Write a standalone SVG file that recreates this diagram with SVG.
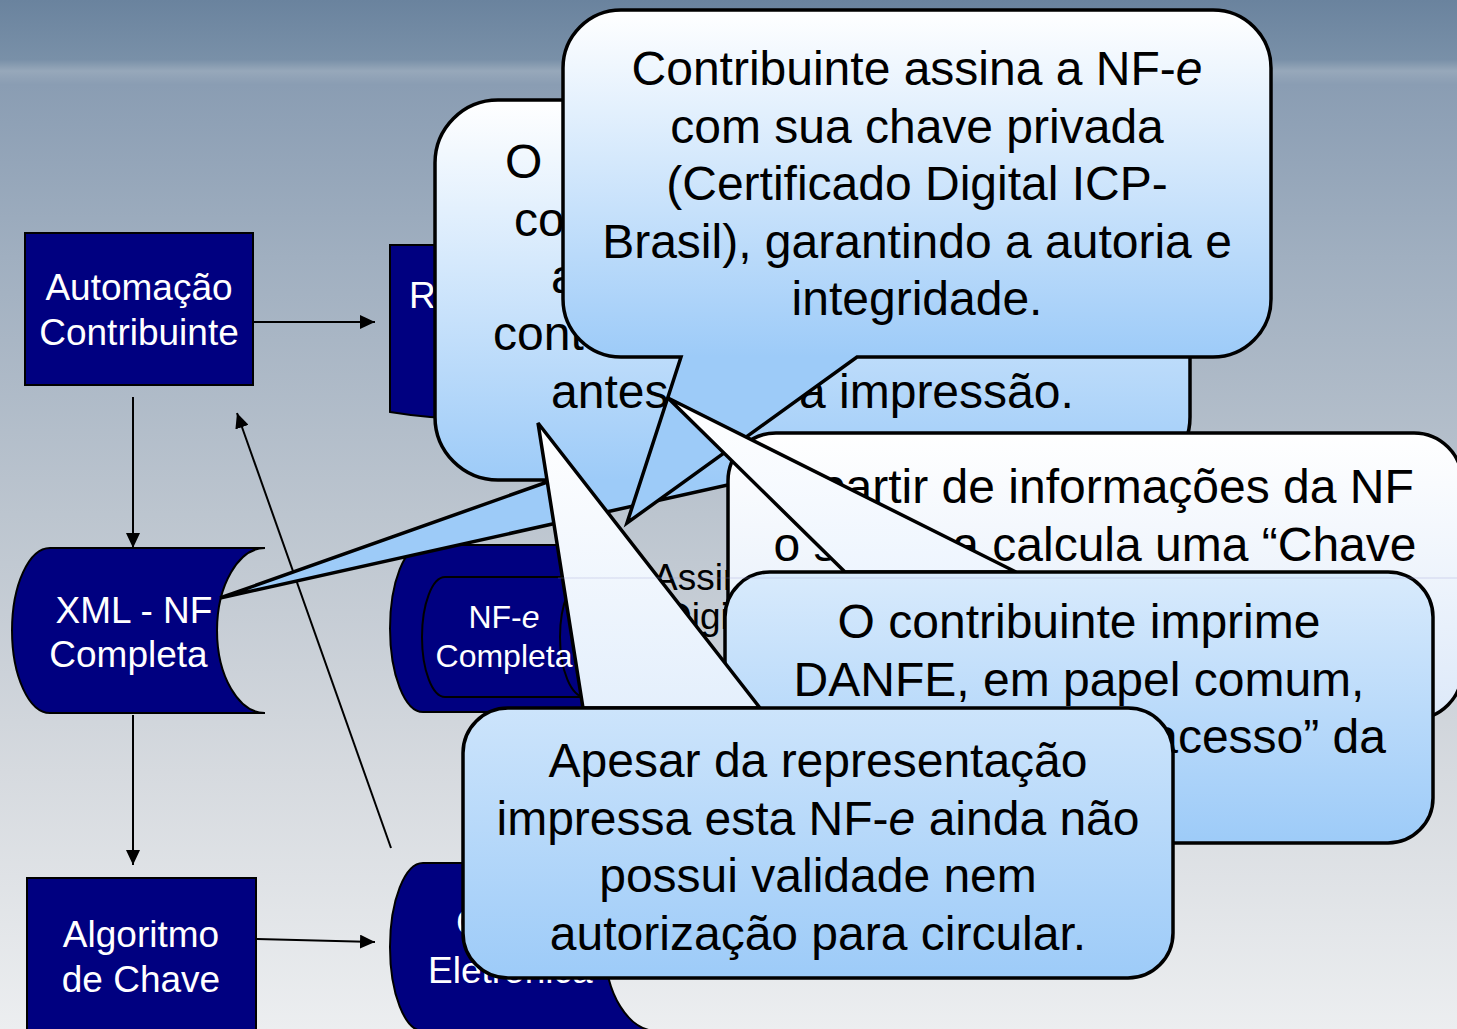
<svg xmlns="http://www.w3.org/2000/svg" width="1457" height="1029" viewBox="0 0 1457 1029">
<defs>
<linearGradient id="bg" gradientUnits="userSpaceOnUse" x1="0" y1="0" x2="0" y2="1029">
<stop offset="0" stop-color="#6a839e"/>
<stop offset="0.058" stop-color="#7990a8"/>
<stop offset="0.069" stop-color="#97a8ba"/>
<stop offset="0.082" stop-color="#8a9db3"/>
<stop offset="0.25" stop-color="#a0afc0"/>
<stop offset="0.5" stop-color="#bcc5cf"/>
<stop offset="0.75" stop-color="#d6dadf"/>
<stop offset="1" stop-color="#eceef0"/>
</linearGradient>
<linearGradient id="gA" gradientUnits="userSpaceOnUse" x1="0" y1="100" x2="0" y2="480"><stop offset="0" stop-color="#ffffff"/><stop offset="1" stop-color="#9dcbf8"/></linearGradient>
<linearGradient id="gB" gradientUnits="userSpaceOnUse" x1="0" y1="10" x2="0" y2="357"><stop offset="0" stop-color="#ffffff"/><stop offset="1" stop-color="#9dcbf8"/></linearGradient>
<linearGradient id="gC" gradientUnits="userSpaceOnUse" x1="0" y1="433" x2="0" y2="719"><stop offset="0" stop-color="#ffffff"/><stop offset="1" stop-color="#dde9f9"/></linearGradient>
<linearGradient id="gDw" gradientUnits="userSpaceOnUse" x1="0" y1="398" x2="0" y2="572"><stop offset="0" stop-color="#ffffff"/><stop offset="1" stop-color="#eef5fe"/></linearGradient>
<linearGradient id="gD" gradientUnits="userSpaceOnUse" x1="0" y1="398" x2="0" y2="843"><stop offset="0" stop-color="#ffffff"/><stop offset="1" stop-color="#9dcbf8"/></linearGradient>
<linearGradient id="gEw" gradientUnits="userSpaceOnUse" x1="0" y1="423" x2="0" y2="708"><stop offset="0" stop-color="#ffffff"/><stop offset="1" stop-color="#e4effc"/></linearGradient>
<linearGradient id="gE" gradientUnits="userSpaceOnUse" x1="0" y1="423" x2="0" y2="978"><stop offset="0" stop-color="#ffffff"/><stop offset="1" stop-color="#9dcbf8"/></linearGradient>
<marker id="ah" viewBox="0 0 15 14" refX="15" refY="7" markerWidth="15" markerHeight="14" markerUnits="userSpaceOnUse" orient="auto"><path d="M0,0 L15,7 L0,14 z" fill="#000"/></marker>
<style>
.node{fill:#000080;stroke:#000;stroke-width:2}
.nt{font-family:"Liberation Sans",Arial,sans-serif;font-size:37px;fill:#fff;text-anchor:middle}
.nts{font-family:"Liberation Sans",Arial,sans-serif;font-size:32px;fill:#fff;text-anchor:middle}
.lbl{font-family:"Liberation Sans",Arial,sans-serif;font-size:37px;fill:#000}
.conn{fill:none;stroke:#000;stroke-width:2;marker-end:url(#ah)}
.co{stroke:#000;stroke-width:3.5;stroke-linejoin:miter}
.ct{font-family:"Liberation Sans",Arial,sans-serif;font-size:48px;fill:#000;text-anchor:middle}
.cf{font-family:"Liberation Sans",Arial,sans-serif;font-size:48px;fill:#000}
</style>
</defs>
<rect x="0" y="0" width="1457" height="1029" fill="url(#bg)"/>

<g id="connectors">
<line class="conn" x1="254" y1="322" x2="375" y2="322"/>
<line class="conn" x1="133" y1="397" x2="133" y2="548"/>
<line class="conn" x1="133" y1="715" x2="133" y2="865"/>
<line class="conn" x1="257" y1="939" x2="375" y2="942"/>
<line class="conn" x1="391" y1="848" x2="237" y2="413"/>
</g>

<g id="node-automacao">
<rect class="node" x="25" y="233" width="228" height="152"/>
<text class="nt" x="139" y="300">Automação</text>
<text class="nt" x="139" y="345">Contribuinte</text>
</g>

<g id="node-xml">
<path class="node" d="M50,548 H265 A48,82.5 0 0 0 265,713 H50 A38,82.5 0 0 1 50,548 Z"/>
<text class="nt" x="134" y="623">XML - NF</text>
<text class="nt" x="128.5" y="667">Completa</text>
</g>

<g id="node-algoritmo">
<rect class="node" x="27" y="878" width="229" height="175"/>
<text class="nt" x="141" y="947">Algoritmo</text>
<text class="nt" x="141" y="992">de Chave</text>
</g>

<g id="node-r">
<path class="node" d="M390,245 H720 V395 C640,370 560,440 390,412 Z"/>
<text class="nt" x="409" y="308" style="text-anchor:start">R</text>
</g>

<g id="node-nfe">
<path class="node" d="M423,545 H630 A30,83.5 0 0 0 630,712 H423 A33,83.5 0 0 1 423,545 Z"/>
<path class="node" d="M445,577 H585 A25,60 0 0 1 585,697 H445 A23,60 0 0 1 445,577 Z"/>
<path fill="none" stroke="#000" stroke-width="2" d="M585,577 A25,60 0 0 0 585,697"/>
<text class="nts" x="504" y="628">NF-<tspan font-style="italic">e</tspan></text>
<text class="nts" x="504" y="667">Completa</text>
</g>

<g id="label-assinatura">
<text class="lbl" x="653" y="590">Assin</text>
<text class="lbl" x="665" y="629">Digit</text>
</g>

<g id="node-chave">
<path class="node" d="M423,863 H657 A52,84 0 0 0 657,1031 H423 A33,84 0 0 1 423,863 Z"/>
<text class="nt" x="456" y="935" style="text-anchor:start">C</text>
<text class="nt" x="428" y="983" style="text-anchor:start">Eletrônica</text>
</g>

<g id="callout-a">
<path class="co" fill="url(#gA)" d="M498,100 H1127 A63,63 0 0 1 1190,163 V417 A63,63 0 0 1 1127,480 H750 L220,598 L553,480 H498 A63,63 0 0 1 435,417 V163 A63,63 0 0 1 498,100 Z"/>
<text class="cf" x="505" y="178">O</text>
<text class="cf" x="514" y="236">co</text>
<text class="cf" x="551" y="293">a</text>
<text class="cf" x="493" y="350">cont</text>
<text class="cf" x="551" y="408">antes</text>
<text class="cf" x="799" y="408">a impressão.</text>
</g>

<g id="callout-b">
<path class="co" fill="url(#gB)" d="M621,10 H1213 A58,58 0 0 1 1271,68 V299 A58,58 0 0 1 1213,357 H857 L627,523 L681,357 H621 A58,58 0 0 1 563,299 V68 A58,58 0 0 1 621,10 Z"/>
<text class="ct" x="917" y="85">Contribuinte assina a NF-<tspan font-style="italic">e</tspan></text>
<text class="ct" x="917" y="142.5">com sua chave privada</text>
<text class="ct" x="917" y="200">(Certificado Digital ICP-</text>
<text class="ct" x="917" y="257.5">Brasil), garantindo a autoria e</text>
<text class="ct" x="917" y="315">integridade.</text>
</g>

<g id="callout-c">
<rect class="co" fill="url(#gC)" x="728" y="433" width="734" height="286" rx="48"/>
<text class="ct" x="1095" y="503">A partir de informações da NF</text>
<text class="ct" x="1095" y="560.5">o sistema calcula uma “Chave</text>
</g>

<g id="callout-d">
<polygon class="co" fill="url(#gDw)" points="845,572 668,398 1016,572"/>
<rect class="co" fill="url(#gD)" x="725" y="572" width="708" height="271" rx="45"/>
<text class="ct" x="1079" y="638">O contribuinte imprime</text>
<text class="ct" x="1079" y="695.5">DANFE, em papel comum,</text>
<text class="ct" x="1386" y="753" style="text-anchor:end">acesso” da</text>
</g>

<g id="callout-e">
<polygon class="co" fill="url(#gEw)" points="583,708 538,423 760,708"/>
<rect class="co" fill="url(#gE)" x="463" y="708" width="710" height="270" rx="45"/>
<text class="ct" x="818" y="777">Apesar da representação</text>
<text class="ct" x="818" y="835">impressa esta NF-<tspan font-style="italic">e</tspan> ainda não</text>
<text class="ct" x="818" y="892">possui validade nem</text>
<text class="ct" x="818" y="950">autorização para circular.</text>
</g>

<line x1="558" y1="578" x2="1457" y2="578" stroke="#8f8fcf" stroke-width="1" opacity="0.3"/>
</svg>
